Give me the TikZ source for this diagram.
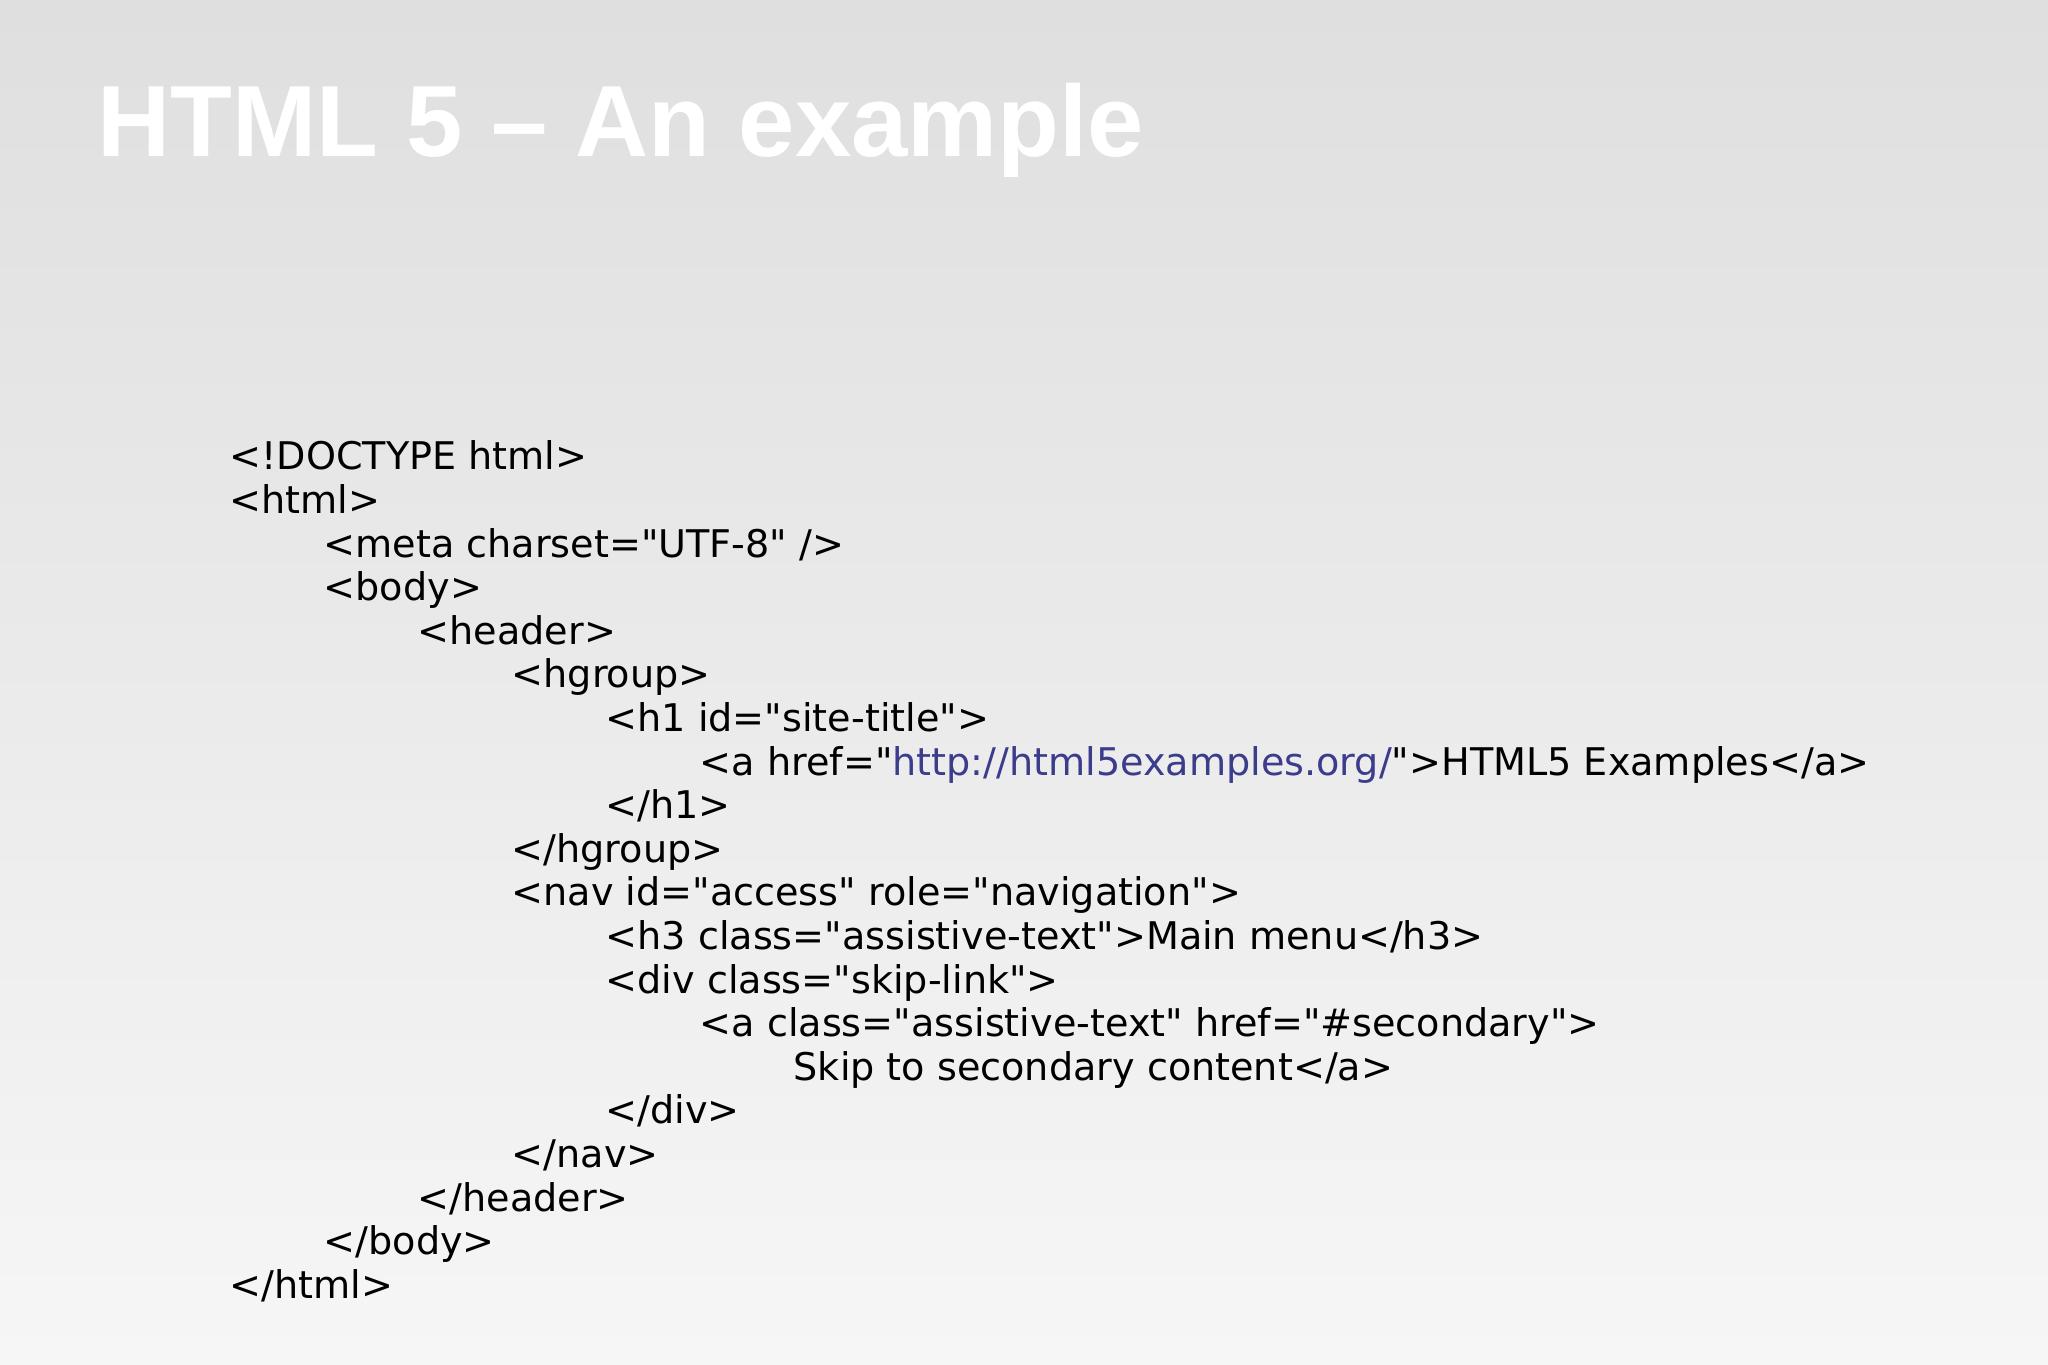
\documentclass[tikz,border=0pt]{standalone}
\usepackage{fontspec}
\newfontfamily\titlefont{Liberation Sans}
\newfontfamily\codefont{DejaVu Sans}
\definecolor{bgtop}{HTML}{DFDFDF}
\definecolor{bgbot}{HTML}{F6F6F7}
\definecolor{urlblue}{HTML}{3C3C8C}
\tikzset{
  codeline/.style={anchor=base west, inner sep=0pt, font=\codefont\fontsize{10.85}{13}\selectfont, text=black},
}
\newcommand{\ind}{0.94}
\newcommand{\lsp}{0.436}
\begin{document}
\begin{tikzpicture}
  \shade[top color=bgtop, bottom color=bgbot] (0,0) rectangle (20.48,13.65);
  \useasboundingbox (0,0) rectangle (20.48,13.65);
  \node (title) [anchor=base west, inner sep=0pt, text=white,
        font=\titlefont\bfseries\fontsize{28.8}{34}\selectfont] at (0.97,12.08) {HTML 5 – An example};
  % code lines
  \node (l1)  [codeline] at (2.29+0*\ind, 8.95-0*\lsp)  {<!DOCTYPE html>};
  \node (l2)  [codeline] at (2.29+0*\ind, 8.95-1*\lsp)  {<html>};
  \node (l3)  [codeline] at (2.29+1*\ind, 8.95-2*\lsp)  {<meta charset="UTF-8" />};
  \node (l4)  [codeline] at (2.29+1*\ind, 8.95-3*\lsp)  {<body>};
  \node (l5)  [codeline] at (2.29+2*\ind, 8.95-4*\lsp)  {<header>};
  \node (l6)  [codeline] at (2.29+3*\ind, 8.95-5*\lsp)  {<hgroup>};
  \node (l7)  [codeline] at (2.29+4*\ind, 8.95-6*\lsp)  {<h1 id="site-title">};
  \node (l8)  [codeline] at (2.29+5*\ind, 8.95-7*\lsp)  {<a href="\textcolor{urlblue}{http://html5examples.org/}">HTML5 Examples</a>};
  \node (l9)  [codeline] at (2.29+4*\ind, 8.95-8*\lsp)  {</h1>};
  \node (l10) [codeline] at (2.29+3*\ind, 8.95-9*\lsp)  {</hgroup>};
  \node (l11) [codeline] at (2.29+3*\ind, 8.95-10*\lsp) {<nav id="access" role="navigation">};
  \node (l12) [codeline] at (2.29+4*\ind, 8.95-11*\lsp) {<h3 class="assistive-text">Main menu</h3>};
  \node (l13) [codeline] at (2.29+4*\ind, 8.95-12*\lsp) {<div class="skip-link">};
  \node (l14) [codeline] at (2.29+5*\ind, 8.95-13*\lsp) {<a class="assistive-text" href="\#secondary">};
  \node (l15) [codeline] at (2.29+6*\ind, 8.95-14*\lsp) {Skip to secondary content</a>};
  \node (l16) [codeline] at (2.29+4*\ind, 8.95-15*\lsp) {</div>};
  \node (l17) [codeline] at (2.29+3*\ind, 8.95-16*\lsp) {</nav>};
  \node (l18) [codeline] at (2.29+2*\ind, 8.95-17*\lsp) {</header>};
  \node (l19) [codeline] at (2.29+1*\ind, 8.95-18*\lsp) {</body>};
  \node (l20) [codeline] at (2.29+0*\ind, 8.95-19*\lsp) {</html>};
\end{tikzpicture}
\end{document}
